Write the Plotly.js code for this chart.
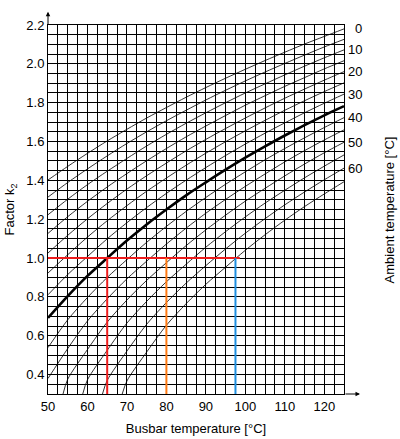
<!DOCTYPE html>
<html>
<head>
<meta charset="utf-8">
<script src="https://cdn.plot.ly/plotly-3.0.1.min.js"></script>
<style>
  html, body { margin: 0; padding: 0; background: #fff; }
  #myDiv { width: 400px; height: 439px; }
</style>
</head>
<body>
<div id="myDiv"></div>
<script>
// busbar temperature [°C] on the x axis
var busbarTemp = [50, 55, 60, 65, 70, 75, 80, 85, 90, 95, 100, 105, 110, 115, 120, 125];

// one curve per ambient temperature [°C]
var ambientTemp = [0, 5, 10, 15, 20, 25, 30, 35, 40, 45, 50, 55, 60, 65];

// factor k2 at the busbar temperatures above (null = curve not yet started)
var k2Amb0  = [1.402, 1.472, 1.539, 1.603, 1.663, 1.721, 1.775, 1.828, 1.878, 1.926, 1.972, 2.017, 2.060, 2.102, 2.141, 2.180];
var k2Amb5  = [1.314, 1.389, 1.459, 1.526, 1.590, 1.650, 1.707, 1.761, 1.814, 1.864, 1.912, 1.958, 2.002, 2.045, 2.087, 2.126];
var k2Amb10 = [1.223, 1.303, 1.378, 1.447, 1.513, 1.577, 1.637, 1.694, 1.748, 1.800, 1.850, 1.897, 1.943, 1.988, 2.031, 2.072];
var k2Amb15 = [1.127, 1.213, 1.292, 1.366, 1.435, 1.501, 1.564, 1.624, 1.680, 1.734, 1.787, 1.836, 1.884, 1.929, 1.974, 2.016];
var k2Amb20 = [1.026, 1.117, 1.202, 1.281, 1.355, 1.424, 1.489, 1.552, 1.611, 1.667, 1.721, 1.773, 1.823, 1.870, 1.916, 1.960];
var k2Amb25 = [0.923, 1.017, 1.108, 1.192, 1.270, 1.344, 1.412, 1.478, 1.540, 1.599, 1.655, 1.709, 1.761, 1.810, 1.857, 1.902];
var k2Amb30 = [0.811, 0.915, 1.008, 1.099, 1.182, 1.260, 1.333, 1.401, 1.466, 1.528, 1.587, 1.643, 1.696, 1.748, 1.797, 1.844];
var k2Amb35 = [0.692, 0.804, 0.908, 1.000, 1.090, 1.173, 1.250, 1.323, 1.390, 1.455, 1.517, 1.575, 1.631, 1.684, 1.735, 1.782];
var k2Amb40 = [0.539, 0.682, 0.797, 0.900, 0.992, 1.081, 1.163, 1.240, 1.312, 1.380, 1.444, 1.506, 1.564, 1.619, 1.672, 1.723];
var k2Amb45 = [0.380, 0.534, 0.676, 0.790, 0.893, 0.984, 1.072, 1.154, 1.231, 1.302, 1.369, 1.433, 1.495, 1.553, 1.608, 1.660];
var k2Amb50 = [null, 0.376, 0.529, 0.670, 0.784, 0.885, 0.976, 1.064, 1.145, 1.221, 1.293, 1.359, 1.423, 1.484, 1.542, 1.596];
var k2Amb55 = [null, null, 0.373, 0.525, 0.665, 0.777, 0.878, 0.968, 1.056, 1.136, 1.212, 1.283, 1.349, 1.413, 1.473, 1.531];
var k2Amb60 = [null, null, null, 0.370, 0.521, 0.659, 0.771, 0.871, 0.961, 1.047, 1.128, 1.203, 1.274, 1.340, 1.403, 1.463];
var k2Amb65 = [null, null, null, null, 0.367, 0.516, 0.654, 0.765, 0.865, 0.953, 1.040, 1.120, 1.195, 1.265, 1.330, 1.393];

// busbar temperature where a curve leaves the bottom edge (k2 = 0.3)
var bottomEntry = [null, null, null, null, null, null, null, null, null, null, 53.8, 58.8, 63.8, 68.8];
var bottomK2 = 0.3;

var k2Curves = [k2Amb0, k2Amb5, k2Amb10, k2Amb15, k2Amb20, k2Amb25, k2Amb30,
                k2Amb35, k2Amb40, k2Amb45, k2Amb50, k2Amb55, k2Amb60, k2Amb65];

var boldAmbient = 35;
var labelledAmbient = [0, 10, 20, 30, 40, 50, 60];

// worked example: k2 = 1.0 read across to busbar temperatures
var exampleK2 = 1.0;
var exampleLineEnd = 98.6;
var exampleTemps = [65, 80, 97.5];
var exampleColors = ['#ee1c1c', '#ff7a12', '#1e8fe0'];

var data = [];
var annotations = [];

for (var i = 0; i < ambientTemp.length; i++) {
    var xs = [], ys = [];
    if (bottomEntry[i] !== null) {
        xs.push(bottomEntry[i]);
        ys.push(bottomK2);
    }
    for (var j = 0; j < busbarTemp.length; j++) {
        if (k2Curves[i][j] === null) continue;
        xs.push(busbarTemp[j]);
        ys.push(k2Curves[i][j]);
    }
    var bold = ambientTemp[i] === boldAmbient;
    data.push({
        x: xs, y: ys,
        type: 'scatter', mode: 'lines',
        line: {color: '#000', width: bold ? 2.6 : 0.8, shape: 'spline', smoothing: 0.8},
        hoverinfo: 'skip', showlegend: false
    });
    if (labelledAmbient.indexOf(ambientTemp[i]) >= 0) {
        annotations.push({
            x: xs[xs.length - 1], y: ys[ys.length - 1],
            xref: 'x', yref: 'y',
            text: String(ambientTemp[i]),
            showarrow: false, xanchor: 'right', xshift: 20,
            font: {size: 13, color: '#000'}
        });
    }
}

// horizontal red line at k2 = 1.0
data.push({
    x: [busbarTemp[0], exampleLineEnd], y: [exampleK2, exampleK2],
    type: 'scatter', mode: 'lines', cliponaxis: false,
    line: {color: exampleColors[0], width: 2},
    hoverinfo: 'skip', showlegend: false
});
// vertical drop lines
for (var m = exampleTemps.length - 1; m >= 0; m--) {
    data.push({
        x: [exampleTemps[m], exampleTemps[m]], y: [exampleK2, bottomK2],
        type: 'scatter', mode: 'lines', cliponaxis: false,
        line: {color: exampleColors[m], width: 2},
        hoverinfo: 'skip', showlegend: false
    });
}

// axis arrows and right-hand title
annotations.push({
    xref: 'paper', yref: 'paper', x: 0, y: 1.036, ax: 0, ay: 14,
    showarrow: true, arrowhead: 2, arrowsize: 0.9, arrowwidth: 1, arrowcolor: '#000', text: ''
});
annotations.push({
    xref: 'paper', yref: 'paper', x: 1.054, y: 0, ax: -16, ay: 0,
    showarrow: true, arrowhead: 2, arrowsize: 0.9, arrowwidth: 1, arrowcolor: '#000', text: ''
});
annotations.push({
    xref: 'paper', yref: 'paper', x: 1.155, y: 0.5,
    xanchor: 'center', yanchor: 'middle',
    text: 'Ambient temperature [°C]', textangle: -90, showarrow: false,
    font: {size: 13, color: '#000'}
});

var layout = {
    width: 400, height: 439,
    margin: {l: 48, r: 56, t: 25, b: 45},
    paper_bgcolor: '#fff', plot_bgcolor: '#fff',
    font: {family: '"Liberation Sans", Arial, sans-serif', size: 13, color: '#000'},
    showlegend: false,
    xaxis: {
        range: [50, 125], tick0: 50, dtick: 10,
        showgrid: true, gridcolor: '#000', gridwidth: 1,
        minor: {dtick: 2.5, showgrid: true, gridcolor: '#000', gridwidth: 1},
        showline: true, mirror: true, linecolor: '#000', linewidth: 1,
        ticks: '', zeroline: false, fixedrange: true,
        title: {text: 'Busbar temperature [°C]', standoff: 11, font: {size: 13}}
    },
    yaxis: {
        range: [0.3, 2.2], tick0: 0, dtick: 0.2, tickformat: '.1f',
        showgrid: true, gridcolor: '#000', gridwidth: 1,
        minor: {dtick: 0.05, showgrid: true, gridcolor: '#000', gridwidth: 1},
        showline: true, mirror: true, linecolor: '#000', linewidth: 1,
        ticks: '', zeroline: false, fixedrange: true,
        title: {text: 'Factor k<sub>2</sub>', standoff: 8, font: {size: 13}}
    },
    annotations: annotations
};

Plotly.newPlot('myDiv', data, layout, {staticPlot: true});
</script>
</body>
</html>
